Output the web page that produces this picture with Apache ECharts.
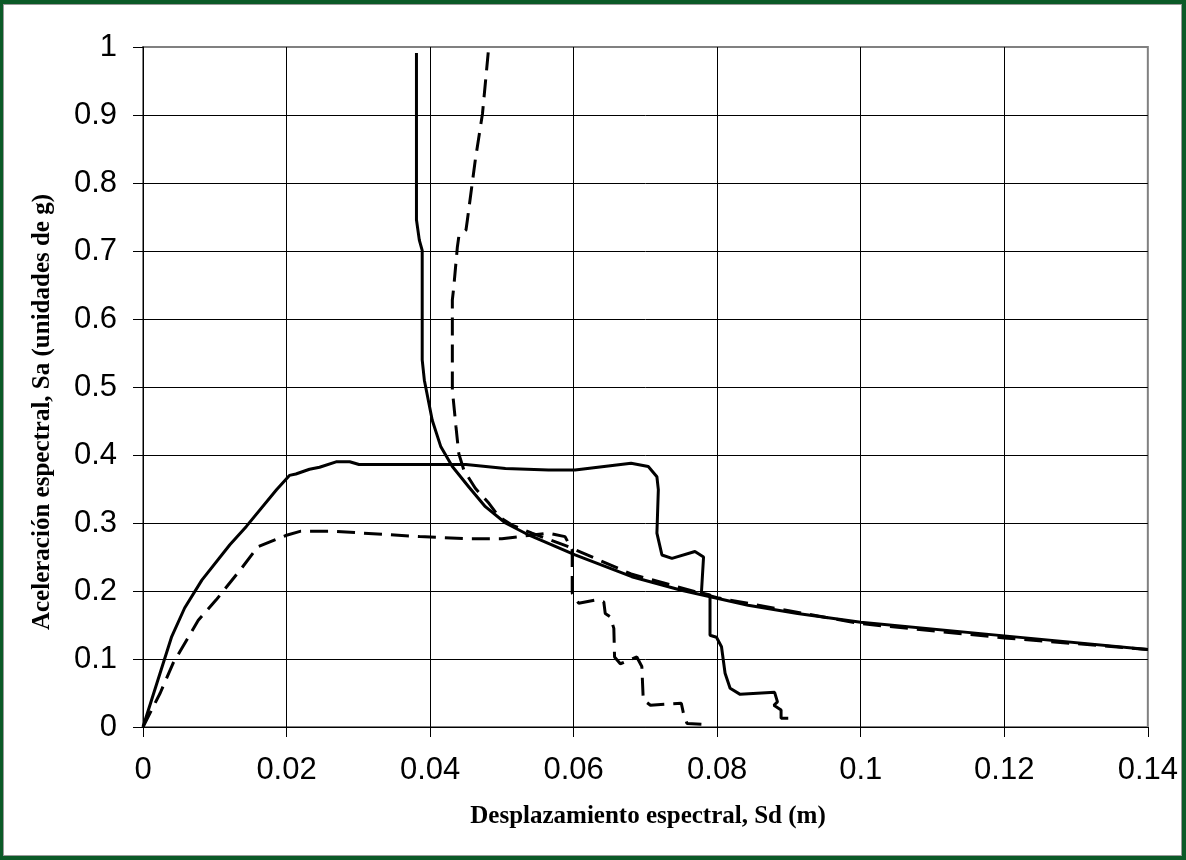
<!DOCTYPE html>
<html>
<head>
<meta charset="utf-8">
<script src="https://cdn.jsdelivr.net/npm/echarts@6/dist/echarts.min.js"></script>
<style>
html,body{margin:0;padding:0;background:#0b5a27;}
#chart{position:absolute;left:3px;top:4px;width:1177px;height:850px;background:#fff;border:1px solid #9a9a9a;}
</style>
</head>
<body>
<div id="chart"></div>
<script>
// tick labels
var xTicks=[0,0.02,0.04,0.06,0.08,0.1,0.12,0.14];
var yTicks=[0,0.1,0.2,0.3,0.4,0.5,0.6,0.7,0.8,0.9,1];

// capacity curve, solid
var capSolidSd=[0,0.004,0.0058,0.0082,0.0121,0.0144,0.0186,0.0204,0.0213,0.0232,0.0246,0.0269,0.0288,0.0301,0.0385,0.045,0.0505,0.0565,0.0602,0.068,0.0704,0.0716,0.0718,0.0716,0.0723,0.0737,0.0769,0.0781,0.0778,0.079,0.079,0.0799,0.0806,0.0811,0.0818,0.0832,0.088,0.0884,0.0879,0.0889,0.0889,0.0899];
var capSolidSa=[0,0.133,0.175,0.216,0.268,0.295,0.349,0.370,0.372,0.379,0.382,0.390,0.390,0.386,0.386,0.386,0.380,0.378,0.378,0.388,0.383,0.368,0.349,0.285,0.253,0.248,0.258,0.250,0.197,0.194,0.135,0.132,0.118,0.079,0.057,0.048,0.051,0.037,0.032,0.025,0.013,0.013];

// capacity curve, dashed
var capDashSd=[0,0.0024,0.0042,0.0077,0.0102,0.0137,0.016,0.02,0.022,0.0264,0.0385,0.045,0.05,0.0565,0.0588,0.0598,0.0598,0.0607,0.0632,0.0642,0.0644,0.0651,0.0656,0.0657,0.0665,0.0688,0.0695,0.0697,0.0707,0.075,0.0753,0.0758,0.0778];
var capDashSa=[0,0.05,0.094,0.157,0.187,0.233,0.265,0.282,0.288,0.288,0.280,0.277,0.277,0.285,0.280,0.260,0.197,0.182,0.187,0.184,0.167,0.162,0.145,0.103,0.093,0.103,0.089,0.040,0.032,0.035,0.020,0.005,0.004];

// demand curve, solid
var demSolidSd=[0.0381,0.0381,0.0385,0.0389,0.0389,0.0392,0.0403,0.0415,0.0431,0.0454,0.0477,0.0505,0.0538,0.0602,0.0681,0.075,0.0843,0.0912,0.1,0.12,0.14];
var demSolidSa=[0.991,0.746,0.716,0.701,0.540,0.510,0.451,0.412,0.383,0.353,0.324,0.300,0.282,0.253,0.221,0.201,0.179,0.167,0.154,0.134,0.114];

// demand curve, dashed
var demDashSd=[0.0481,0.0473,0.0463,0.0452,0.0450,0.0440,0.0438,0.0433,0.0431,0.0431,0.0436,0.0438,0.0440,0.0447,0.0463,0.0482,0.0496,0.0514,0.0542,0.0593,0.068,0.08,0.1,0.12,0.14];
var demDashSa=[0.992,0.902,0.834,0.746,0.731,0.721,0.706,0.647,0.628,0.496,0.442,0.422,0.402,0.378,0.351,0.329,0.309,0.297,0.285,0.265,0.225,0.190,0.152,0.131,0.114];

function pairs(xs,ys){
    var out=[];
    for(var i=0;i<xs.length;i++){out.push([xs[i],ys[i]]);}
    return out;
}

var chart=echarts.init(document.getElementById('chart'));
var solid={color:'#000',width:3,type:'solid'};
var dashed={color:'#000',width:3,type:[18,9]};
var titleFont={fontFamily:'Liberation Serif',fontWeight:'bold',fontSize:25,fill:'#000',align:'center',verticalAlign:'middle'};
var option={
    animation:false,
    backgroundColor:'#fff',
    grid:{left:139,top:42,width:1008,height:680,show:true,borderColor:'#808080',borderWidth:2,backgroundColor:'transparent'},
    xAxis:{
        type:'value',min:xTicks[0],max:xTicks[xTicks.length-1],interval:0.02,
        axisLine:{lineStyle:{color:'#000',width:1}},
        axisTick:{show:true,length:10,lineStyle:{color:'#000'}},
        axisLabel:{fontFamily:'Liberation Sans',fontSize:31,color:'#000',margin:28},
        splitLine:{show:true,showMaxLine:false,lineStyle:{color:'#000',width:1}}
    },
    yAxis:{
        type:'value',min:yTicks[0],max:yTicks[yTicks.length-1],interval:0.1,
        axisLine:{show:true,lineStyle:{color:'#000',width:1}},
        axisTick:{show:true,length:10,lineStyle:{color:'#000'}},
        axisLabel:{fontFamily:'Liberation Sans',fontSize:31,color:'#000',margin:26},
        splitLine:{show:true,showMaxLine:false,lineStyle:{color:'#000',width:1}}
    },
    graphic:[
        {type:'text',x:39,y:407,rotation:Math.PI/2,
         style:Object.assign({text:'Aceleración espectral, Sa (unidades de g)'},titleFont)},
        {type:'text',x:644,y:812,
         style:Object.assign({text:'Desplazamiento espectral, Sd (m)'},titleFont)}
    ],
    series:[
        {type:'line',data:pairs(capSolidSd,capSolidSa),showSymbol:false,lineStyle:solid},
        {type:'line',data:pairs(capDashSd,capDashSa),showSymbol:false,lineStyle:dashed},
        {type:'line',data:pairs(demSolidSd,demSolidSa),showSymbol:false,lineStyle:solid},
        {type:'line',data:pairs(demDashSd,demDashSa),showSymbol:false,lineStyle:dashed}
    ]
};
chart.setOption(option);
</script>
</body>
</html>
